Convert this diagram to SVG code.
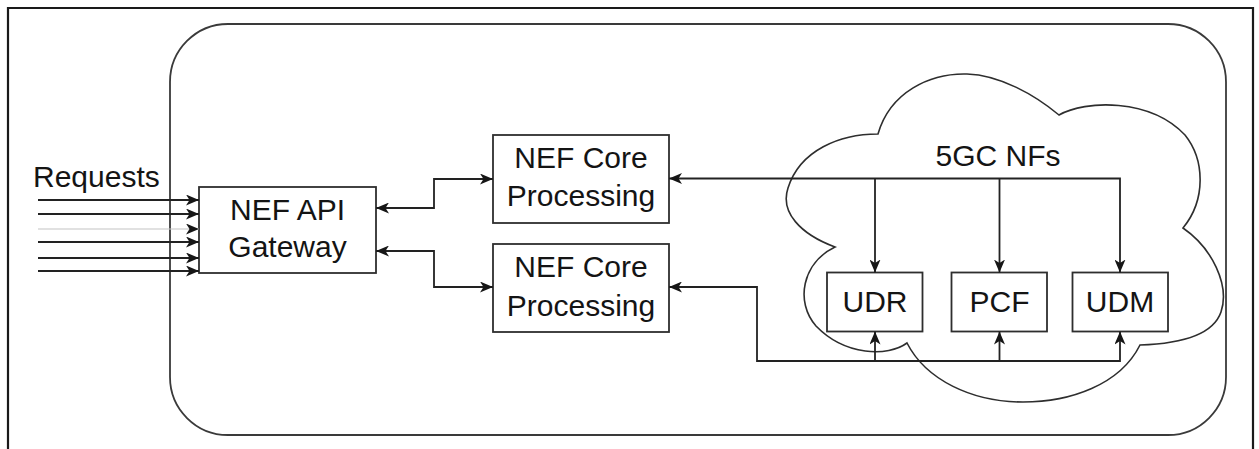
<svg xmlns="http://www.w3.org/2000/svg" width="1259" height="449" viewBox="0 0 1259 449">
  <style>
    .frame { fill: none; stroke: #1a1a1a; stroke-width: 2.2; }
    .panel { fill: none; stroke: #3a3a3a; stroke-width: 1.8; }
    .box { fill: #fff; stroke: #2e2e2e; stroke-width: 1.8; }
    .cloud { fill: none; stroke: #2e2e2e; stroke-width: 1.6; }
    .lbl { font-family: "Liberation Sans", Arial, Helvetica, sans-serif; font-size: 30px; fill: #141414; }
    .mid { text-anchor: middle; }
    .conn { fill: none; stroke: #222; stroke-width: 1.8; }
    .faint { stroke: #c4c4c4; stroke-width: 1.1; }
  </style>
  <defs>
    <marker id="arrow" markerUnits="userSpaceOnUse" markerWidth="13" markerHeight="11" refX="13" refY="5.5" orient="auto-start-reverse" viewBox="0 0 13 11">
      <path d="M0,0 L13,5.5 L0,11 L3.5,5.5 Z" fill="#161616"/>
    </marker>
  </defs>

  <!-- page frame, open at the bottom -->
  <path class="frame" d="M8,449 V8 H1253 V449"/>

  <!-- system boundary -->
  <rect class="panel" x="170" y="24" width="1056" height="411" rx="58" ry="58"/>

  <!-- 5GC cloud -->
  <g id="cloud">
    <path class="cloud" d="M878,134
      C890,92 930,73 967,74
      C1000,75 1035,95 1059,115
      C1085,100 1150,98 1185,135
      C1205,160 1206,200 1183,228
      C1212,248 1230,285 1221,312
      C1212,338 1172,344 1140,345
      C1120,385 1070,402 1023,402
      C972,402 926,380 907,343
      C888,357 845,356 816,326
      C795,302 802,263 835,247
      C800,234 780,212 788,188
      C800,150 840,134 878,134 Z"/>
    <text class="lbl mid" x="998" y="166">5GC NFs</text>
  </g>

  <!-- incoming requests -->
  <g id="requests">
    <text class="lbl" x="33" y="187">Requests</text>
  </g>

  <!-- nodes -->
  <g id="gateway">
    <rect class="box" x="199" y="187" width="177" height="86"/>
    <text class="lbl mid" x="287.5" y="220">NEF API</text>
    <text class="lbl mid" x="287.5" y="257">Gateway</text>
  </g>
  <g id="core1">
    <rect class="box" x="493" y="135" width="176" height="88"/>
    <text class="lbl mid" x="581" y="168">NEF Core</text>
    <text class="lbl mid" x="581" y="206">Processing</text>
  </g>
  <g id="core2">
    <rect class="box" x="493" y="244" width="176" height="88"/>
    <text class="lbl mid" x="581" y="277">NEF Core</text>
    <text class="lbl mid" x="581" y="316">Processing</text>
  </g>
  <g id="udr">
    <rect class="box" x="827" y="272.5" width="95.5" height="59"/>
    <text class="lbl mid" x="875" y="312">UDR</text>
  </g>
  <g id="pcf">
    <rect class="box" x="951.5" y="272.5" width="95.5" height="59"/>
    <text class="lbl mid" x="999.5" y="312">PCF</text>
  </g>
  <g id="udm">
    <rect class="box" x="1072.5" y="272.5" width="95.5" height="59"/>
    <text class="lbl mid" x="1120" y="312">UDM</text>
  </g>

  <!-- connectors -->
  <g id="connectors">
    <line class="conn" x1="38" y1="200" x2="199" y2="200" marker-end="url(#arrow)"/>
    <line class="conn" x1="38" y1="214" x2="199" y2="214" marker-end="url(#arrow)"/>
    <line class="conn faint" x1="38" y1="229" x2="199" y2="229" marker-end="url(#arrow)"/>
    <line class="conn" x1="38" y1="242" x2="199" y2="242" marker-end="url(#arrow)"/>
    <line class="conn" x1="38" y1="258" x2="199" y2="258" marker-end="url(#arrow)"/>
    <line class="conn" x1="38" y1="271" x2="199" y2="271" marker-end="url(#arrow)"/>

    <path class="conn" d="M376,208 H434 V179 H493" marker-start="url(#arrow)" marker-end="url(#arrow)"/>
    <path class="conn" d="M376,251 H434 V287 H493" marker-start="url(#arrow)" marker-end="url(#arrow)"/>

    <path class="conn" d="M1120,272.5 V178.5 H669" marker-start="url(#arrow)" marker-end="url(#arrow)"/>
    <line class="conn" x1="875" y1="178.5" x2="875" y2="272.5" marker-end="url(#arrow)"/>
    <line class="conn" x1="999.5" y1="178.5" x2="999.5" y2="272.5" marker-end="url(#arrow)"/>

    <path class="conn" d="M669,287 H757 V361 H1120 V331.5" marker-start="url(#arrow)" marker-end="url(#arrow)"/>
    <line class="conn" x1="875" y1="361" x2="875" y2="331.5" marker-end="url(#arrow)"/>
    <line class="conn" x1="999.5" y1="361" x2="999.5" y2="331.5" marker-end="url(#arrow)"/>
  </g>
</svg>
